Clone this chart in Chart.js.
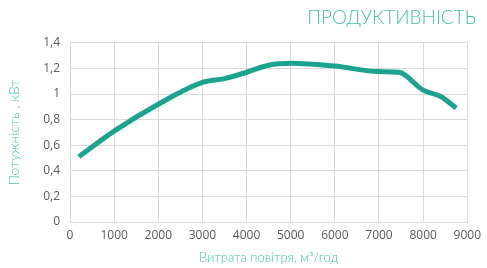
<!DOCTYPE html>
<html>
<head>
<meta charset="utf-8">
<script src="https://cdn.jsdelivr.net/npm/chart.js@4"></script>
<style>
  html, body { margin: 0; padding: 0; background: #fff; }
  #wrap { width: 487px; height: 268px; }
</style>
</head>
<body>
<div id="wrap"><canvas id="myChart"></canvas></div>
<script>
// дані кривої (витрата повітря, м3/год -> потужність, кВт)
const airflow = [200, 1000, 2000, 3000, 3500, 4000, 4500, 5000, 6000, 7000, 7450, 8000, 8400, 8750];
const power = [0.51, 0.71, 0.92, 1.09, 1.12, 1.17, 1.225, 1.24, 1.218, 1.175, 1.17, 1.03, 0.98, 0.89];

const xTicks = [0, 1000, 2000, 3000, 4000, 5000, 6000, 7000, 8000, 9000];
const yTicks = [0, 0.2, 0.4, 0.6, 0.8, 1, 1.2, 1.4];

const teal = '#1ba38d';
const titleTeal = '#45c2ae';

const ctx = document.getElementById('myChart');

new Chart(ctx, {
  type: 'line',
  data: {
    datasets: [{
      label: 'Потужність',
      data: airflow.map((x, i) => ({ x: x, y: power[i] })),
      borderColor: teal,
      borderWidth: 5,
      pointRadius: 0,
      cubicInterpolationMode: 'monotone',
      fill: false
    }]
  },
  options: {
    responsive: true,
    maintainAspectRatio: false,
    animation: false,
    layout: { padding: { left: 0, right: 11, top: 4, bottom: 2 } },
    plugins: {
      legend: { display: false },
      tooltip: { enabled: false },
      title: {
        display: true,
        text: 'ПРОДУКТИВНІСТЬ',
        align: 'end',
        color: titleTeal,
        font: { family: 'Lato', size: 19, weight: '300' },
        padding: { top: 2, bottom: 14 }
      }
    },
    scales: {
      x: {
        type: 'linear',
        min: 0,
        max: 9000,
        afterBuildTicks: (axis) => { axis.ticks = xTicks.map(v => ({ value: v })); },
        ticks: {
          color: '#595959',
          font: { family: 'Open Sans', size: 12 },
          maxRotation: 0,
          padding: 6,
          callback: (v) => String(v)
        },
        grid: { color: '#d9d9d9', drawTicks: false },
        border: { color: '#d9d9d9' },
        title: {
          display: true,
          text: 'Витрата повітря, м³/год',
          color: titleTeal,
          font: { family: 'Lato', size: 13, weight: '300' },
          padding: { top: 2, bottom: 0 }
        }
      },
      y: {
        min: 0,
        max: 1.4,
        afterBuildTicks: (axis) => { axis.ticks = yTicks.map(v => ({ value: v })); },
        afterFit: (axis) => { axis.width = 70; },
        ticks: {
          color: '#595959',
          font: { family: 'Open Sans', size: 12 },
          padding: 10,
          callback: (v) => String(Math.round(v * 10) / 10).replace('.', ',')
        },
        grid: { color: '#d9d9d9', drawTicks: false },
        border: { color: '#d9d9d9' },
        title: {
          display: true,
          text: 'Потужність , кВт',
          color: titleTeal,
          font: { family: 'Lato', size: 14, weight: '300' },
          padding: { top: 6, bottom: 4 }
        }
      }
    }
  }
});
</script>
</body>
</html>
